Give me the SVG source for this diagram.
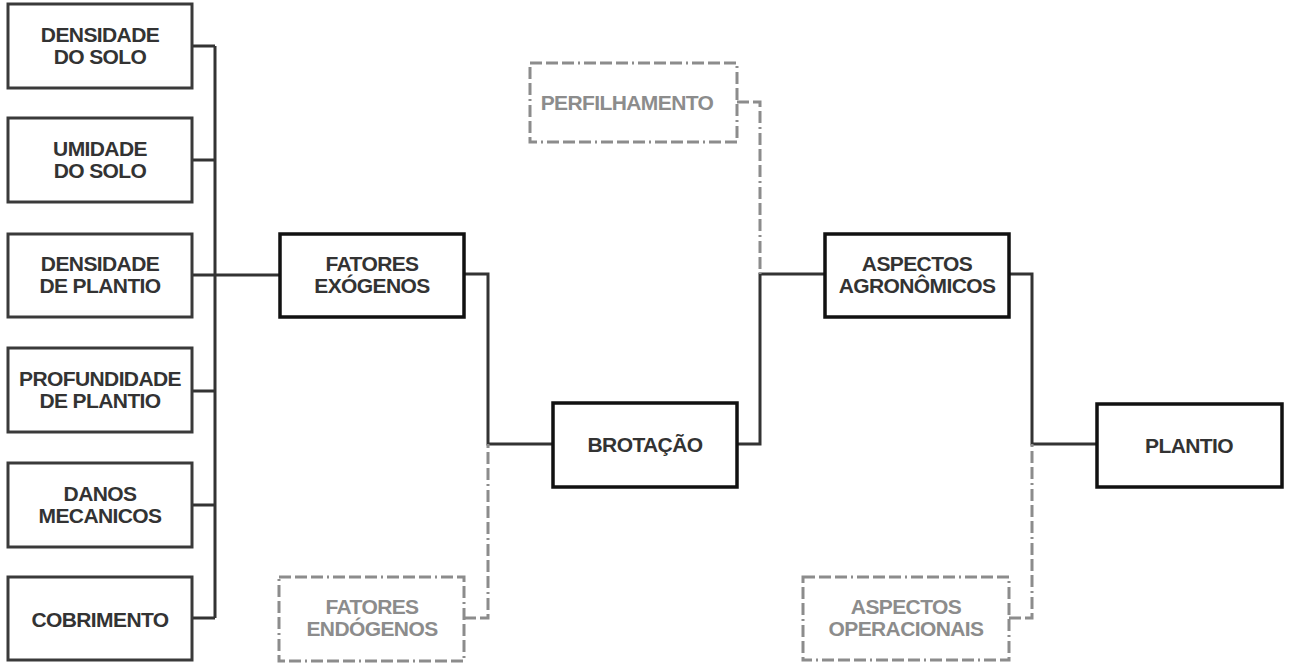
<svg xmlns="http://www.w3.org/2000/svg" width="1293" height="667" viewBox="0 0 1293 667">
<style>
.b{fill:#fff;stroke:#3a3a3a;stroke-width:3}
.m{fill:#fff;stroke:#111;stroke-width:3.5}
.d{fill:#fff;stroke:#8c8c8c;stroke-width:3;stroke-dasharray:12 4 12 4 12 4 2 4}
.t{font-family:"Liberation Sans",Arial,sans-serif;font-weight:bold;font-size:21px;letter-spacing:-0.6px;fill:#333;text-anchor:middle}
.g{fill:#8c8c8c}
.c{fill:none;stroke:#333;stroke-width:3}
.cd{fill:none;stroke:#8c8c8c;stroke-width:3;stroke-dasharray:12 4 12 4 12 4 2 4}
</style>
<g id="connectors">
<path class="c" d="M192 46H215M192 160H215M192 275H280M192 391H215M192 505H215M192 618H215M215 46V618"/>
<path class="c" d="M464 274H488V444H553"/>
<path class="c" d="M737 444H760V274H825"/>
<path class="c" d="M1009 274H1032V444H1097"/>
<path class="cd" d="M737 102H760V274"/>
<path class="cd" d="M464 618H488V444"/>
<path class="cd" d="M1009 618H1032V444"/>
</g>
<g id="densidade-solo"><rect class="b" x="8" y="4" width="184" height="84"/><text class="t" x="100" y="42">DENSIDADE</text><text class="t" x="100" y="64">DO SOLO</text></g>
<g id="umidade-solo"><rect class="b" x="8" y="118" width="184" height="84"/><text class="t" x="100" y="156">UMIDADE</text><text class="t" x="100" y="178">DO SOLO</text></g>
<g id="densidade-plantio"><rect class="b" x="8" y="234" width="184" height="83"/><text class="t" x="100" y="271">DENSIDADE</text><text class="t" x="100" y="293">DE PLANTIO</text></g>
<g id="profundidade-plantio"><rect class="b" x="8" y="348" width="184" height="84"/><text class="t" x="100" y="386">PROFUNDIDADE</text><text class="t" x="100" y="408">DE PLANTIO</text></g>
<g id="danos-mecanicos"><rect class="b" x="8" y="463" width="184" height="84"/><text class="t" x="100" y="501">DANOS</text><text class="t" x="100" y="523">MECANICOS</text></g>
<g id="cobrimento"><rect class="b" x="8" y="577" width="184" height="83"/><text class="t" x="100" y="627">COBRIMENTO</text></g>
<g id="fatores-exogenos"><rect class="m" x="280" y="234" width="184" height="83"/><text class="t" x="372" y="271">FATORES</text><text class="t" x="372" y="293">EXÓGENOS</text></g>
<g id="fatores-endogenos"><rect class="d" x="279" y="577" width="185" height="84"/><text class="t g" x="372" y="614">FATORES</text><text class="t g" x="372" y="636">ENDÓGENOS</text></g>
<g id="brotacao"><rect class="m" x="553" y="403" width="184" height="84"/><text class="t" x="645" y="452">BROTAÇÃO</text></g>
<g id="perfilhamento"><rect class="d" x="530" y="63" width="207" height="79"/><text class="t g" x="627" y="110">PERFILHAMENTO</text></g>
<g id="aspectos-agronomicos"><rect class="m" x="825" y="234" width="184" height="83"/><text class="t" x="917" y="271">ASPECTOS</text><text class="t" x="917" y="293">AGRONÔMICOS</text></g>
<g id="aspectos-operacionais"><rect class="d" x="803" y="577" width="206" height="83"/><text class="t g" x="906" y="614">ASPECTOS</text><text class="t g" x="906" y="636">OPERACIONAIS</text></g>
<g id="plantio"><rect class="m" x="1097" y="404" width="185" height="83"/><text class="t" x="1189" y="453">PLANTIO</text></g>
</svg>
